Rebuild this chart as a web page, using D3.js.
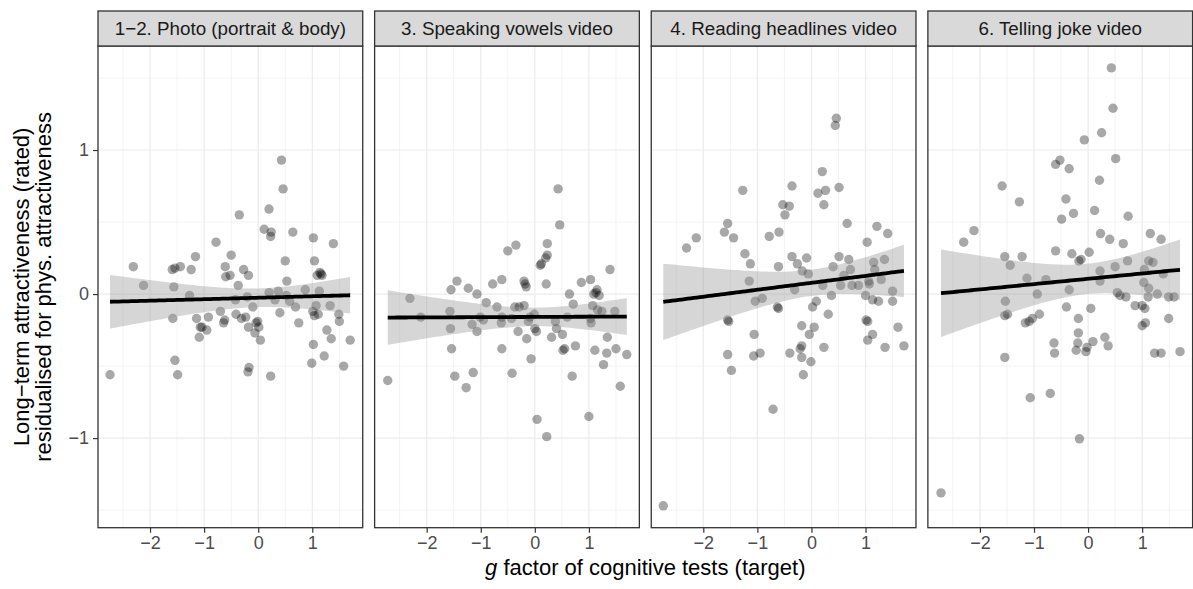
<!DOCTYPE html>
<html>
<head>
<meta charset="utf-8">
<script src="https://cdn.jsdelivr.net/npm/d3@7"></script>
<style>
  html, body { margin: 0; padding: 0; background: #ffffff; }
  svg { display: block; font-family: "Liberation Sans", Arial, Helvetica, sans-serif; }
</style>
</head>
<body>
<svg id="chart" width="1193" height="589"></svg>
<script>
// Facet titles, one per rating condition
const panelTitles = [
  "1\u22122. Photo (portrait & body)",
  "3. Speaking vowels video",
  "4. Reading headlines video",
  "6. Telling joke video"
];

// [g factor, residualised long-term attractiveness] per target
const photoPts = [
  [0.43,0.93],[0.46,0.73],[0.20,0.59],[-0.35,0.55],[0.11,0.45],[0.24,0.43],[0.23,0.40],[0.64,0.43],
  [1.02,0.39],[1.39,0.35],[-0.78,0.36],[-0.50,0.27],[-1.16,0.26],[-2.31,0.19],[-1.59,0.17],[-1.54,0.18],
  [-1.44,0.19],[-1.24,0.17],[-0.61,0.19],[-0.60,0.12],[-0.52,0.13],[-0.27,0.17],[-0.18,0.13],[0.50,0.23],
  [1.04,0.23],[1.09,0.13],[1.16,0.14],[1.18,0.13],[1.14,0.15],[0.53,0.09],[-0.37,0.06],[-2.12,0.06],
  [-1.56,0.05],[-1.27,-0.01],[0.20,0.01],[0.37,0.02],[0.87,0.03],[1.13,0.02],[-0.20,-0.02],[-0.42,-0.04],
  [0.31,-0.04],[0.52,-0.01],[0.58,-0.05],[0.69,-0.09],[-0.10,-0.09],[1.07,-0.08],[1.33,-0.08],[-1.58,-0.17],
  [-0.92,-0.16],[-0.70,-0.12],[-1.14,-0.17],[-0.41,-0.14],[-0.31,-0.17],[-0.23,-0.16],[-0.64,-0.20],[-0.62,-0.18],
  [-1.04,-0.23],[-1.07,-0.23],[-0.95,-0.25],[-1.09,-0.30],[-0.18,-0.23],[-0.01,-0.19],[-0.04,-0.20],[0.01,-0.23],
  [-0.06,-0.27],[0.04,-0.32],[0.40,-0.13],[0.75,-0.20],[1.01,-0.12],[1.04,-0.15],[1.11,-0.14],[1.49,-0.14],
  [1.50,-0.19],[1.27,-0.25],[1.35,-0.31],[1.70,-0.32],[1.02,-0.35],[1.22,-0.43],[-1.54,-0.46],[-2.74,-0.56],
  [-1.49,-0.56],[-0.17,-0.51],[-0.19,-0.54],[0.23,-0.57],[0.99,-0.48],[1.58,-0.50]
];

const vowelsPts = [
  [0.43,0.73],[0.46,0.48],[0.23,0.35],[-0.35,0.34],[-0.50,0.30],[0.23,0.27],[0.20,0.25],[0.10,0.20],
  [0.12,0.21],[1.39,0.17],[-1.44,0.09],[-1.55,0.03],[-1.23,0.04],[-1.07,0.00],[-0.78,0.07],[-0.61,0.10],
  [-0.20,0.09],[-0.18,0.07],[-0.16,0.05],[0.21,0.07],[0.86,0.08],[1.03,0.10],[1.15,0.03],[1.09,0.00],
  [1.13,0.01],[1.19,-0.01],[0.64,0.00],[-2.31,-0.03],[-0.90,-0.06],[-0.70,-0.09],[-0.37,-0.09],[-0.29,-0.09],
  [-0.20,-0.08],[0.71,-0.07],[1.07,-0.08],[1.16,-0.11],[1.24,-0.12],[1.48,-0.12],[-2.11,-0.16],[-1.57,-0.12],
  [-1.01,-0.16],[-0.95,-0.18],[-0.61,-0.16],[-0.62,-0.20],[-0.43,-0.17],[-0.09,-0.16],[-0.01,-0.14],[-0.12,-0.19],
  [0.38,-0.19],[0.60,-0.16],[1.04,-0.20],[1.03,-0.17],[-1.56,-0.24],[-1.16,-0.21],[-1.07,-0.26],[-0.31,-0.26],
  [0.00,-0.24],[0.03,-0.26],[0.40,-0.24],[0.51,-0.28],[-0.15,-0.31],[0.31,-0.30],[1.34,-0.30],[-1.54,-0.38],
  [-0.61,-0.38],[0.52,-0.39],[0.55,-0.38],[0.75,-0.36],[1.11,-0.39],[1.33,-0.41],[1.50,-0.38],[1.70,-0.42],
  [-0.07,-0.45],[-2.72,-0.60],[-1.48,-0.57],[-1.14,-0.545],[-1.27,-0.65],[-0.42,-0.55],[0.69,-0.57],[1.27,-0.49],
  [1.58,-0.64],[0.04,-0.87],[0.22,-0.99],[1.00,-0.85]
];

const headlinesPts = [
  [0.46,1.22],[0.44,1.17],[0.20,0.85],[-1.27,0.72],[-0.36,0.75],[0.12,0.70],[0.26,0.72],[0.51,0.74],
  [-0.53,0.62],[-0.41,0.61],[-0.49,0.55],[0.23,0.62],[-1.55,0.49],[-1.61,0.43],[-1.44,0.39],[-2.13,0.39],
  [-2.31,0.32],[-0.78,0.40],[-0.60,0.43],[0.66,0.49],[1.21,0.47],[1.41,0.42],[1.03,0.36],[-1.23,0.28],
  [-1.13,0.21],[-0.61,0.19],[-0.36,0.26],[-0.26,0.21],[-0.17,0.16],[-0.09,0.25],[-0.06,0.14],[0.40,0.19],
  [0.51,0.26],[0.69,0.24],[0.72,0.17],[0.60,0.13],[1.15,0.22],[1.35,0.24],[1.17,0.17],[-1.15,0.09],
  [-0.31,0.03],[0.21,0.06],[0.54,0.06],[0.75,0.06],[0.87,0.06],[1.06,0.09],[1.07,0.07],[1.29,0.10],
  [1.50,0.02],[0.37,-0.01],[1.00,-0.01],[1.13,-0.04],[1.24,-0.05],[1.50,-0.05],[-1.04,-0.05],[-0.91,-0.03],
  [-0.63,-0.09],[-0.61,-0.10],[0.09,-0.05],[0.02,-0.09],[0.31,-0.14],[-1.55,-0.18],[-1.53,-0.19],[1.01,-0.18],
  [1.04,-0.19],[-0.18,-0.22],[0.05,-0.23],[-0.04,-0.28],[-1.06,-0.28],[1.13,-0.28],[1.04,-0.32],[1.60,-0.23],
  [1.71,-0.36],[1.36,-0.37],[0.23,-0.37],[-0.18,-0.36],[-0.21,-0.38],[-0.40,-0.41],[-0.95,-0.41],[-1.07,-0.43],
  [-1.55,-0.42],[-0.18,-0.44],[-0.01,-0.47],[-1.48,-0.53],[-0.15,-0.56],[-0.71,-0.80],[-2.74,-1.47]
];

const jokePts = [
  [0.43,1.57],[0.46,1.29],[0.25,1.12],[-0.07,1.07],[0.51,0.94],[-0.60,0.90],[-0.52,0.93],[-0.35,0.87],
  [0.21,0.79],[-1.59,0.75],[-1.27,0.64],[-0.41,0.66],[-0.27,0.56],[-0.49,0.52],[0.12,0.58],[0.74,0.54],
  [-2.11,0.44],[-2.30,0.36],[0.23,0.42],[0.40,0.38],[0.65,0.35],[1.15,0.42],[1.35,0.38],[-0.60,0.30],
  [-0.30,0.28],[0.02,0.29],[-0.17,0.23],[-0.13,0.24],[-1.54,0.26],[-1.22,0.26],[-1.44,0.20],[-1.13,0.11],
  [-0.78,0.10],[-0.35,0.03],[0.22,0.16],[0.22,0.09],[0.50,0.19],[0.73,0.23],[1.12,0.23],[1.20,0.22],
  [1.04,0.17],[1.03,0.08],[1.12,0.04],[1.39,0.14],[-0.94,0.00],[0.54,0.01],[0.59,-0.01],[0.70,-0.02],
  [0.87,-0.08],[1.00,-0.08],[1.05,-0.10],[1.11,-0.02],[1.28,0.00],[1.49,-0.02],[1.59,-0.02],[-1.53,-0.05],
  [-1.54,-0.15],[-1.49,-0.14],[-1.16,-0.20],[-1.09,-0.19],[-1.03,-0.17],[-0.90,-0.14],[-0.40,-0.09],[0.05,-0.10],
  [-0.18,-0.17],[-0.18,-0.27],[1.00,-0.22],[1.06,-0.20],[1.49,-0.17],[-0.63,-0.34],[-0.62,-0.41],[-0.19,-0.34],
  [-0.22,-0.39],[-0.04,-0.40],[-0.02,-0.37],[0.09,-0.33],[0.31,-0.30],[0.37,-0.36],[-1.54,-0.44],[1.23,-0.41],
  [1.35,-0.41],[1.70,-0.40],[-1.07,-0.72],[-0.70,-0.69],[-0.16,-1.005],[-2.72,-1.38]
];

const panelData = [photoPts, vowelsPts, headlinesPts, jokePts];

// Axis breaks
const xMajor = [-2, -1, 0, 1];
const xMinor = [-2.5, -1.5, -0.5, 0.5, 1.5];
const yMajor = [-1, 0, 1];
const yMinor = [-1.5, -0.5, 0.5, 1.5];

const yTitleLines = ["Long\u2212term attractiveness (rated)", "residualised for phys. attractiveness"];

// ---------- layout ----------
const svg = d3.select("#chart");
const plotLeft = 98, plotRight = 1192.6, gap = 11.9;
const plotTop = 46, plotBottom = 527.7, stripTop = 11;
const panelW = (plotRight - plotLeft - gap * (panelData.length - 1)) / panelData.length;
const tickFmt = d3.format("d");

// Shared scales with a 5% expansion of the pooled data range
function expanded(ext) {
  const pad = (ext[1] - ext[0]) * 0.05;
  return [ext[0] - pad, ext[1] + pad];
}
const allPts = panelData.flat();
const xDomain = expanded(d3.extent(allPts, d => d[0]));
const yDomain = expanded(d3.extent(allPts, d => d[1]));
const y = d3.scaleLinear().domain(yDomain).range([plotBottom, plotTop]);

// Student t quantile (two-sided 95%) via Cornish-Fisher expansion
function tQuantile975(df) {
  const z = 1.959964;
  return z + (z ** 3 + z) / (4 * df) + (5 * z ** 5 + 16 * z ** 3 + 3 * z) / (96 * df * df);
}

// Ordinary least squares fit with a 95% confidence band for the mean
function lmFit(pts) {
  const n = pts.length;
  const mx = d3.mean(pts, d => d[0]), my = d3.mean(pts, d => d[1]);
  const sxx = d3.sum(pts, d => (d[0] - mx) ** 2);
  const sxy = d3.sum(pts, d => (d[0] - mx) * (d[1] - my));
  const b = sxy / sxx, a = my - b * mx;
  const sse = d3.sum(pts, d => (d[1] - (a + b * d[0])) ** 2);
  const s = Math.sqrt(sse / (n - 2));
  const t = tQuantile975(n - 2);
  const [x0, x1] = d3.extent(pts, d => d[0]);
  const grid = d3.range(80).map(i => x0 + (x1 - x0) * i / 79);
  return grid.map(xv => {
    const fit = a + b * xv;
    const se = s * Math.sqrt(1 / n + (xv - mx) ** 2 / sxx);
    return { x: xv, fit, lo: fit - t * se, hi: fit + t * se };
  });
}

panelData.forEach((pts, i) => {
  const left = plotLeft + i * (panelW + gap);
  const x = d3.scaleLinear().domain(xDomain).range([left, left + panelW]);
  const g = svg.append("g");

  // panel background
  g.append("rect").attr("x", left).attr("y", plotTop)
    .attr("width", panelW).attr("height", plotBottom - plotTop).attr("fill", "#ffffff");

  // grid lines
  g.selectAll(".vminor").data(xMinor).join("line")
    .attr("x1", d => x(d)).attr("x2", d => x(d)).attr("y1", plotTop).attr("y2", plotBottom)
    .attr("stroke", "#ebebeb").attr("stroke-width", 0.6);
  g.selectAll(".hminor").data(yMinor).join("line")
    .attr("y1", d => y(d)).attr("y2", d => y(d)).attr("x1", left).attr("x2", left + panelW)
    .attr("stroke", "#ebebeb").attr("stroke-width", 0.6);
  g.selectAll(".vmajor").data(xMajor).join("line")
    .attr("x1", d => x(d)).attr("x2", d => x(d)).attr("y1", plotTop).attr("y2", plotBottom)
    .attr("stroke", "#ebebeb").attr("stroke-width", 1.2);
  g.selectAll(".hmajor").data(yMajor).join("line")
    .attr("y1", d => y(d)).attr("y2", d => y(d)).attr("x1", left).attr("x2", left + panelW)
    .attr("stroke", "#ebebeb").attr("stroke-width", 1.2);

  // points
  g.append("g").selectAll("circle").data(pts).join("circle")
    .attr("cx", d => x(d[0])).attr("cy", d => y(d[1])).attr("r", 4.7)
    .attr("fill", "#000000").attr("fill-opacity", 0.34);

  // linear fit with confidence band
  const fit = lmFit(pts);
  g.append("path").datum(fit)
    .attr("d", d3.area().x(d => x(d.x)).y0(d => y(d.lo)).y1(d => y(d.hi)))
    .attr("fill", "#999999").attr("fill-opacity", 0.4);
  g.append("path").datum(fit)
    .attr("d", d3.line().x(d => x(d.x)).y(d => y(d.fit)))
    .attr("fill", "none").attr("stroke", "#000000").attr("stroke-width", 3.8);

  // panel border
  g.append("rect").attr("x", left).attr("y", plotTop)
    .attr("width", panelW).attr("height", plotBottom - plotTop)
    .attr("fill", "none").attr("stroke", "#333333").attr("stroke-width", 1.3);

  // strip
  g.append("rect").attr("x", left).attr("y", stripTop)
    .attr("width", panelW).attr("height", plotTop - stripTop)
    .attr("fill", "#d9d9d9").attr("stroke", "#333333").attr("stroke-width", 1.3);
  g.append("text").attr("x", left + panelW / 2).attr("y", (stripTop + plotTop) / 2)
    .attr("dy", "0.35em").attr("text-anchor", "middle")
    .attr("font-size", 18.8).attr("fill", "#1a1a1a").text(panelTitles[i]);

  // bottom axis
  const xAxis = g.append("g").attr("transform", `translate(0,${plotBottom})`)
    .call(d3.axisBottom(x).tickValues(xMajor).tickFormat(tickFmt).tickSize(5).tickPadding(4));
  xAxis.select(".domain").remove();
  xAxis.selectAll(".tick line").attr("stroke", "#333333").attr("stroke-width", 1.2);
  xAxis.selectAll(".tick text").attr("font-size", 18).attr("fill", "#4d4d4d")
    .attr("font-family", "Liberation Sans, Arial, sans-serif");

  // left axis on the first panel only
  if (i === 0) {
    const yAxis = g.append("g").attr("transform", `translate(${left},0)`)
      .call(d3.axisLeft(y).tickValues(yMajor).tickFormat(tickFmt).tickSize(5).tickPadding(4));
    yAxis.select(".domain").remove();
    yAxis.selectAll(".tick line").attr("stroke", "#333333").attr("stroke-width", 1.2);
    yAxis.selectAll(".tick text").attr("font-size", 18).attr("fill", "#4d4d4d")
      .attr("font-family", "Liberation Sans, Arial, sans-serif");
  }
});

// axis titles
const xTitle = svg.append("text")
  .attr("x", (plotLeft + plotRight) / 2).attr("y", 575)
  .attr("text-anchor", "middle").attr("font-size", 22).attr("fill", "#000000");
xTitle.append("tspan").attr("font-style", "italic").text("g");
xTitle.append("tspan").text(" factor of cognitive tests (target)");

const yMid = (plotTop + plotBottom) / 2;
const yTitle = svg.append("text")
  .attr("transform", `translate(0,${yMid}) rotate(-90)`)
  .attr("text-anchor", "middle").attr("font-size", 22).attr("fill", "#000000");
yTitleLines.forEach((line, k) => {
  yTitle.append("tspan").attr("x", 0).attr("y", 29 + k * 21.5).text(line);
});
</script>
</body>
</html>
